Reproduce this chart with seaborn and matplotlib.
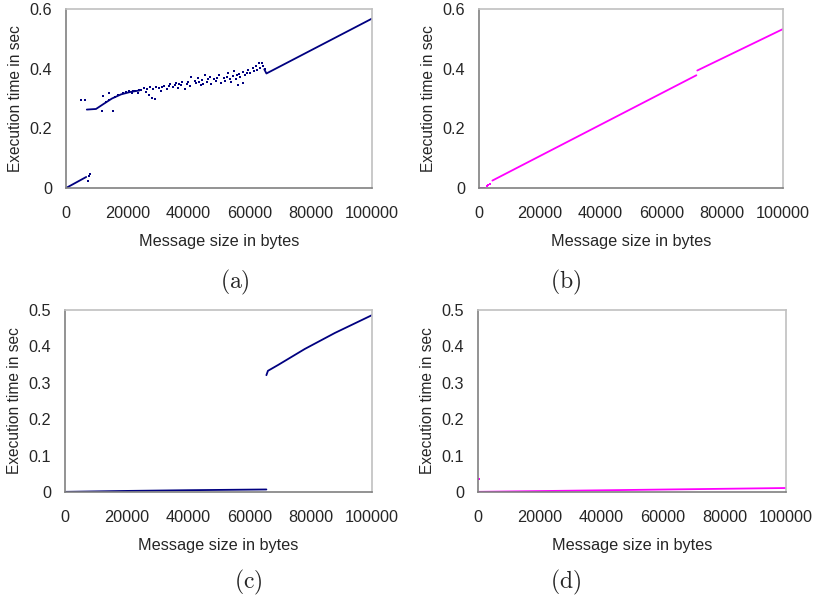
import numpy as np
import pandas as pd
import seaborn as sns
import matplotlib.pyplot as plt

# panel (a) - navy, jump near 64 KB
a_seg1_x = [0, 6600]
a_seg1_y = [0.0, 0.037]
a_band_x = [6800, 9800, 12000, 15000, 18000, 21000, 24000]
a_band_y = [0.263, 0.265, 0.280, 0.300, 0.314, 0.322, 0.327]
a_seg3_x = [64800, 65500, 100000]
a_seg3_y = [0.398, 0.384, 0.568]
a_pts_x = [5000, 6300, 7100, 7500, 7900,
           11800, 12000, 13000, 14000, 14200, 15300, 16000, 17000, 18500, 19500,
           20500, 21500, 22000, 22500, 23500, 24000, 24500, 25500, 26000, 26500,
           27000, 27500, 28000, 28500, 29000, 29500, 30500, 31000, 31500, 32000,
           33000, 33500, 34000, 35000, 35500, 36000, 36500, 37000, 37500, 38000,
           39000, 39500, 40000, 40500, 41000, 42000, 42500, 43000, 43500, 44000,
           44500, 44800, 45500, 46000, 46500, 47000, 47500, 48500, 49000, 49500,
           50000, 50500, 51500, 52000, 52500, 53000, 53500, 54000, 54500, 55000,
           55500, 56000, 56300, 56500, 57000, 57800, 58000, 58500, 59000, 59500,
           60000, 61000, 61500, 62000, 62500, 63000, 63500, 64000, 64500, 65000]
a_pts_y = [0.296, 0.294, 0.023, 0.041, 0.046,
           0.258, 0.309, 0.290, 0.296, 0.319, 0.258, 0.305, 0.312, 0.318, 0.322,
           0.324, 0.320, 0.326, 0.326, 0.318, 0.329, 0.330, 0.335, 0.322, 0.333,
           0.312, 0.338, 0.301, 0.331, 0.298, 0.340, 0.336, 0.326, 0.338, 0.343,
           0.333, 0.342, 0.348, 0.340, 0.346, 0.352, 0.336, 0.350, 0.344, 0.355,
           0.332, 0.349, 0.356, 0.342, 0.373, 0.360, 0.351, 0.370, 0.357, 0.345,
           0.362, 0.348, 0.380, 0.356, 0.364, 0.372, 0.348, 0.366, 0.358, 0.368,
           0.378, 0.353, 0.369, 0.360, 0.372, 0.384, 0.366, 0.355, 0.376, 0.392,
           0.364, 0.378, 0.344, 0.383, 0.372, 0.352, 0.388, 0.378, 0.384, 0.396,
           0.385, 0.402, 0.392, 0.408, 0.397, 0.418, 0.404, 0.420, 0.409, 0.400]

# panel (b) - magenta, small gap near 71 KB
b_seg0_x = [0, 1900]
b_seg0_y = [0.001, 0.001]
b_pts_x = [2600, 3100, 3500]
b_pts_y = [0.006, 0.010, 0.014]
b_seg1_x = [4400, 71500]
b_seg1_y = [0.025, 0.378]
b_seg2_x = [71800, 100000]
b_seg2_y = [0.394, 0.533]

# panel (c) - navy
c_seg1_x = [0, 20000, 40000, 65600]
c_seg1_y = [0.0005, 0.003, 0.005, 0.007]
c_seg2_x = [65600, 66100, 69400, 78100, 87900, 100000]
c_seg2_y = [0.321, 0.333, 0.349, 0.393, 0.437, 0.486]

# panel (d) - magenta
d_seg_x = [0, 100000]
d_seg_y = [0.0005, 0.011]
d_pts_x = [200]
d_pts_y = [0.036]

NAVY = "#000080"
MAGENTA = "#FF00FF"

sns.set_style("white")
plt.rcParams["font.family"] = ["Liberation Sans", "DejaVu Sans"]
plt.rcParams["mathtext.fontset"] = "cm"

fig = plt.figure(figsize=(8.17, 5.99), dpi=100)
ax_a = fig.add_axes([0.0808, 0.6861, 0.3745, 0.2988])
ax_b = fig.add_axes([0.5863, 0.6861, 0.3721, 0.2988])
ax_c = fig.add_axes([0.0796, 0.1786, 0.3757, 0.3038])
ax_d = fig.add_axes([0.5851, 0.1786, 0.3770, 0.3038])


def seg(ax, xs, ys, color):
    sns.lineplot(x=xs, y=ys, ax=ax, color=color, lw=1.3, sort=False,
                 estimator=None)


def dots(ax, xs, ys, color):
    sns.scatterplot(x=xs, y=ys, ax=ax, color=color, s=2.5, marker="s",
                    linewidth=0)


seg(ax_a, a_seg1_x, a_seg1_y, NAVY)
seg(ax_a, a_band_x, a_band_y, NAVY)
seg(ax_a, a_seg3_x, a_seg3_y, NAVY)
dots(ax_a, a_pts_x, a_pts_y, NAVY)

seg(ax_b, b_seg0_x, b_seg0_y, MAGENTA)
seg(ax_b, b_seg1_x, b_seg1_y, MAGENTA)
seg(ax_b, b_seg2_x, b_seg2_y, MAGENTA)
dots(ax_b, b_pts_x, b_pts_y, MAGENTA)

seg(ax_c, c_seg1_x, c_seg1_y, NAVY)
seg(ax_c, c_seg2_x, c_seg2_y, NAVY)

seg(ax_d, d_seg_x, d_seg_y, MAGENTA)
dots(ax_d, d_pts_x, d_pts_y, MAGENTA)

for ax, ymax, yticks, ylabs in [
        (ax_a, 0.6, [0, 0.2, 0.4, 0.6], ["0", "0.2", "0.4", "0.6"]),
        (ax_b, 0.6, [0, 0.2, 0.4, 0.6], ["0", "0.2", "0.4", "0.6"]),
        (ax_c, 0.5, [0, 0.1, 0.2, 0.3, 0.4, 0.5], ["0", "0.1", "0.2", "0.3", "0.4", "0.5"]),
        (ax_d, 0.5, [0, 0.1, 0.2, 0.3, 0.4, 0.5], ["0", "0.1", "0.2", "0.3", "0.4", "0.5"])]:
    ax.set_xlim(0, 100000)
    ax.set_ylim(0, ymax)
    ax.set_xticks([0, 20000, 40000, 60000, 80000, 100000])
    ax.set_xticklabels(["0", "20000", "40000", "60000", "80000", "100000"])
    ax.set_yticks(yticks)
    ax.set_yticklabels(ylabs)
    ax.tick_params(axis="both", direction="out", length=4, width=0.8,
                   color="#808080", labelsize=11.7)
    ax.tick_params(axis="x", pad=9)
    ax.tick_params(axis="y", pad=6)
    for side in ["left", "bottom"]:
        ax.spines[side].set_color("#808080")
        ax.spines[side].set_linewidth(1.2)
    for side in ["top", "right"]:
        ax.spines[side].set_color("#c0c0c0")
        ax.spines[side].set_linewidth(1.2)
    ax.set_xlabel("Message size in bytes", fontsize=11.7, labelpad=9)
    ax.set_ylabel("Execution time in sec", fontsize=11.2, labelpad=5)

fig.text(235 / 817, 1 - 282 / 599, r"$\mathrm{(a)}$", fontsize=17, ha="center", va="center")
fig.text(566 / 817, 1 - 282 / 599, r"$\mathrm{(b)}$", fontsize=17, ha="center", va="center")
fig.text(248 / 817, 1 - 582 / 599, r"$\mathrm{(c)}$", fontsize=17, ha="center", va="center")
fig.text(566 / 817, 1 - 582 / 599, r"$\mathrm{(d)}$", fontsize=17, ha="center", va="center")

fig.savefig("out.png", dpi=100)
